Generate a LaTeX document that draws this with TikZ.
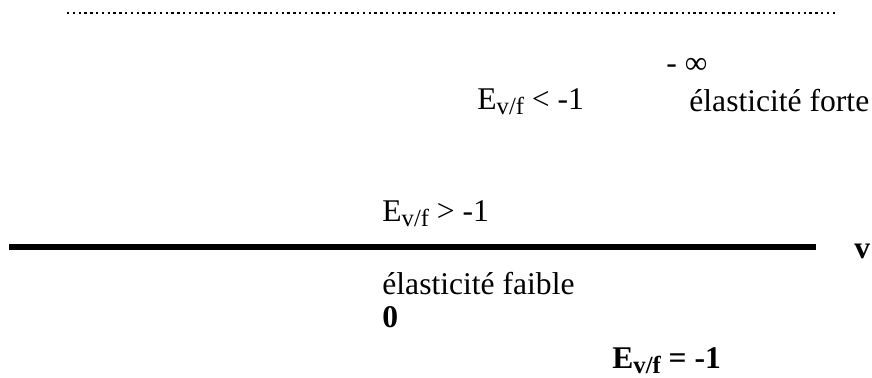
\documentclass[tikz,border=0pt]{standalone}
\usepackage{fontspec}
\setmainfont{Liberation Serif}
\newcommand{\diafont}{\fontsize{15.8}{19}\selectfont}
\newcommand{\vfsub}{\raisebox{-2.5pt}{\fontsize{12.3}{14}\selectfont v/f}}
\begin{document}
\begin{tikzpicture}[
  x=0.5pt, y=-0.5pt,
  font=\diafont,
  txt/.style={anchor=base west, inner sep=0pt},
  boldtxt/.style={txt, font=\diafont\bfseries},
  axis/.style={line width=3pt},
  dots/.style={line width=1pt, dash pattern=on 1.2pt off 1.7pt}
]
\useasboundingbox (0,0) rectangle (872,378);

% Column positions (x)
\def\xLeft{382}
\def\xMid{477}
\def\xRight{612}

% Dotted line on top
\coordinate (dotL) at (67,13);
\coordinate (dotR) at (835,13);
\draw[dots] (dotL) -- (dotR);

% Upper part
\node[txt] (minf) at (666,74) {- ∞};
\node[txt] (eless) at (\xMid,110) {E\vfsub{} < -1};
\node[txt] (forte) at (689,112) {élasticité forte};

% Axis
\node[txt] (egreat) at (\xLeft,222) {E\vfsub{} > -1};
\coordinate (axL) at (9,247);
\coordinate (axR) at (816,247);
\draw[axis] (axL) -- (axR);
\node[boldtxt] (v) at (854,259) {v};

% Lower part
\node[txt] (faible) at (\xLeft,295) {élasticité faible};
\node[boldtxt] (zero) at (\xLeft,328) {0};
\node[boldtxt] (eequal) at (\xRight,369) {E\vfsub{} = -1};

\end{tikzpicture}
\end{document}
